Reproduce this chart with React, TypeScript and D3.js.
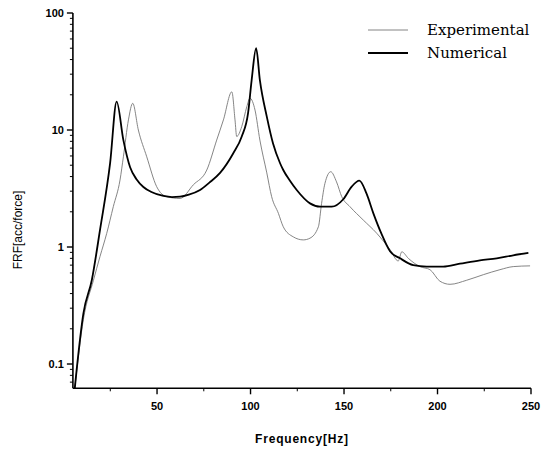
import React from 'react';
import * as d3 from 'd3';

// Frequency [Hz] and FRF values
const expFreq = [6, 10.6, 16, 19.5, 23.1, 26.6, 30.2, 32, 34.7, 37, 40, 44.5, 49.8, 55.2, 62.3, 69.4, 76.6, 81.9, 85.5, 90, 91.7, 92.6, 95.3, 98, 99.7, 102.4, 105, 108.7, 111.3, 114.9, 117.5, 122.9, 128.2, 131.8, 136.3, 138, 139.8, 142.9, 146, 148.8, 153.2, 160.3, 167.5, 174.6, 179, 180.9, 184.4, 190.6, 196, 201.3, 206.7, 215.6, 224.5, 233.4, 240.5, 249.5];
const expValue = [0.062, 0.24, 0.52, 0.83, 1.31, 2.21, 3.74, 5.9, 12.2, 16.9, 10, 5.9, 3.28, 2.69, 2.6, 3.4, 4.55, 8.2, 12.2, 21.2, 12.2, 8.8, 10.7, 15.8, 18.7, 14.8, 8.2, 4.3, 2.69, 1.94, 1.49, 1.22, 1.15, 1.19, 1.49, 2.36, 3.5, 4.4, 3.6, 2.69, 2.21, 1.7, 1.31, 0.95, 0.76, 0.91, 0.8, 0.68, 0.64, 0.51, 0.48, 0.52, 0.58, 0.64, 0.68, 0.69];

const numFreq = [6, 7, 10.6, 15.1, 19.5, 24.9, 28.4, 32, 35.6, 39, 42.7, 47, 53.4, 58, 62.3, 67, 73, 78, 83.7, 90.7, 95.3, 98.7, 100.6, 103, 105, 108.7, 112, 115.8, 117.5, 121, 124.7, 131.8, 137.2, 143.4, 149.6, 154.1, 158.2, 162, 165.7, 170, 174.6, 180, 187, 194.2, 203, 212, 222.7, 231.7, 240.5, 248.6];
const numValue = [0.062, 0.089, 0.27, 0.52, 1.4, 5.2, 17.5, 8.2, 4.8, 3.8, 3.26, 2.95, 2.73, 2.67, 2.69, 2.8, 3.07, 3.55, 4.3, 6.3, 8.8, 14, 26.7, 50, 26.7, 13, 7.7, 5.2, 4.55, 3.7, 3.07, 2.36, 2.21, 2.21, 2.56, 3.28, 3.69, 2.87, 1.94, 1.3, 0.92, 0.8, 0.7, 0.68, 0.68, 0.72, 0.77, 0.8, 0.85, 0.89];

const xTicks = [50, 100, 150, 200, 250];
const xMinorTicks = [25, 75, 125, 175, 225];
const yTicks = [0.1, 1, 10, 100];
const yTickLabels = ['0.1', '1', '10', '100'];

const width = 552;
const height = 449;

export default function App() {
  const x = d3.scaleLinear().domain([5, 250]).range([72.9, 531]);
  const y = d3.scaleLog().domain([0.062, 100]).range([388.3, 13]);

  const yMinor: number[] = [];
  [0.01, 0.1, 1, 10].forEach(d => {
    for (let k = 2; k <= 9; k++) {
      const v = d * k;
      if (v >= 0.062 && v <= 100) yMinor.push(v);
    }
  });

  const makePath = (fs: number[], vs: number[]) =>
    d3
      .line<number>()
      .x(i => x(fs[i]))
      .y(i => y(vs[i]))
      .curve(d3.curveMonotoneX)(fs.map((_, i) => i)) || '';

  const x0 = x.range()[0];
  const yBase = y.range()[0];
  const tickFont = 'Arial, "Liberation Sans", sans-serif';

  return (
    <svg
      width={width}
      height={height}
      style={{ position: 'absolute', left: 0, top: 0, background: '#fff' }}
    >
      {/* curves */}
      <path d={makePath(expFreq, expValue)} fill="none" stroke="#777" strokeWidth={0.9} />
      <path d={makePath(numFreq, numValue)} fill="none" stroke="#000" strokeWidth={1.8} />

      {/* y axis */}
      <line x1={x0} x2={x0} y1={y.range()[1]} y2={yBase} stroke="#000" strokeWidth={1.6} />
      {yMinor.map(v => (
        <line key={'ym' + v} x1={x0 - 3} x2={x0} y1={y(v)} y2={y(v)} stroke="#000" strokeWidth={1} />
      ))}
      {yTicks.map((v, i) => (
        <g key={'y' + v}>
          <line x1={x0 - 6} x2={x0} y1={y(v)} y2={y(v)} stroke="#000" strokeWidth={1.4} />
          <text
            x={x0 - 9}
            y={y(v) + 4}
            textAnchor="end"
            fontSize={11}
            fontWeight="bold"
            fontFamily={tickFont}
          >
            {yTickLabels[i]}
          </text>
        </g>
      ))}

      {/* x axis */}
      <line x1={x0} x2={x.range()[1]} y1={yBase} y2={yBase} stroke="#000" strokeWidth={1.6} />
      {xMinorTicks.map(v => (
        <line key={'xm' + v} x1={x(v)} x2={x(v)} y1={yBase} y2={yBase + 3} stroke="#000" strokeWidth={1} />
      ))}
      {xTicks.map(v => (
        <g key={'x' + v}>
          <line x1={x(v)} x2={x(v)} y1={yBase} y2={yBase + 6} stroke="#000" strokeWidth={1.4} />
          <text
            x={x(v)}
            y={yBase + 22}
            textAnchor="middle"
            fontSize={11}
            fontWeight="bold"
            fontFamily={tickFont}
          >
            {v}
          </text>
        </g>
      ))}

      {/* axis titles */}
      <text
        x={(x0 + x.range()[1]) / 2}
        y={443}
        textAnchor="middle"
        fontSize={12}
        fontWeight="bold"
        letterSpacing={0.8}
        fontFamily={tickFont}
      >
        Frequency[Hz]
      </text>
      <text
        transform={`translate(22, 230) rotate(-90)`}
        textAnchor="middle"
        fontSize={12}
        fontFamily={tickFont}
      >
        FRF[acc/force]
      </text>

      {/* legend */}
      <line x1={368} x2={408} y1={30} y2={30} stroke="#777" strokeWidth={0.9} />
      <text x={427} y={35} fontSize={15} fontFamily='"DejaVu Serif", "Liberation Serif", serif'>
        Experimental
      </text>
      <line x1={368} x2={408} y1={53} y2={53} stroke="#000" strokeWidth={1.8} />
      <text x={427} y={58} fontSize={15} fontFamily='"DejaVu Serif", "Liberation Serif", serif'>
        Numerical
      </text>
    </svg>
  );
}
